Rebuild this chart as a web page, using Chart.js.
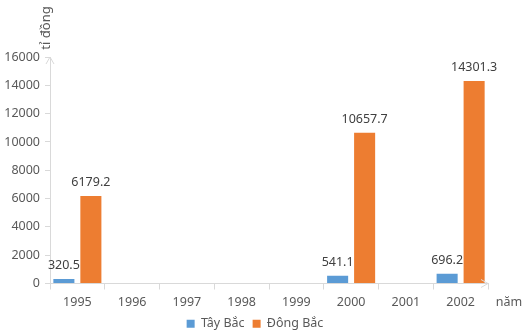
<!DOCTYPE html>
<html>
<head>
<meta charset="utf-8">
<script src="https://cdn.jsdelivr.net/npm/chart.js@4"></script>
<style>
  html, body { margin: 0; padding: 0; background: #fff; }
  #wrap { width: 530px; height: 336px; }
</style>
</head>
<body>
<div id="wrap"><canvas id="chart" width="530" height="336"></canvas></div>
<script>
// du lieu
const nam = ["1995", "1996", "1997", "1998", "1999", "2000", "2001", "2002"];
const tayBac = [320.5, null, null, null, null, 541.1, null, 696.2];
const dongBac = [6179.2, null, null, null, null, 10657.7, null, 14301.3];
const yTicks = [0, 2000, 4000, 6000, 8000, 10000, 12000, 14000, 16000];

const FONT = "'Noto Sans', sans-serif";
const TEXT = "#595959";
const AXIS = "#d9d9d9";

// nhan gia tri tren cot
const nhanGiaTri = {
  id: "nhanGiaTri",
  afterDatasetsDraw(chart) {
    const c = chart.ctx;
    c.save();
    c.font = "12.5px " + FONT;
    c.fillStyle = "#404040";
    c.textAlign = "center";
    c.textBaseline = "bottom";
    chart.data.datasets.forEach((ds, i) => {
      chart.getDatasetMeta(i).data.forEach((bar, j) => {
        if (ds.data[j] == null) return;
        c.fillText(ds.data[j].toFixed(1), bar.x, bar.y - 7);
      });
    });
    c.restore();
  }
};

// mui ten truc + ten truc
const trucTen = {
  id: "trucTen",
  afterLayout(chart) {
    // dich chu giai sang phai mot chut
    chart.legend.left += 11;
    chart.legend.right += 11;
  },
  afterDraw(chart) {
    const c = chart.ctx;
    const a = chart.chartArea;
    c.save();
    c.strokeStyle = AXIS;
    c.lineWidth = 1;
    c.beginPath();
    c.moveTo(a.left - 4, a.top + 7);
    c.lineTo(a.left, a.top);
    c.lineTo(a.left + 4, a.top + 7);
    c.moveTo(a.right - 7, a.bottom - 4);
    c.lineTo(a.right, a.bottom);
    c.lineTo(a.right - 7, a.bottom + 4);
    c.stroke();

    c.fillStyle = TEXT;
    c.font = "12.5px " + FONT;
    c.textAlign = "center";
    c.textBaseline = "middle";
    c.fillText("năm", 509, 302);

    c.translate(46, 28);
    c.rotate(-Math.PI / 2);
    c.font = "13px " + FONT;
    c.fillText("tỉ đồng", 0, 0);
    c.restore();
  }
};

new Chart(document.getElementById("chart"), {
  type: "bar",
  data: {
    labels: nam,
    datasets: [
      {
        label: "Tây Bắc",
        data: tayBac,
        backgroundColor: "#5b9bd5",
        categoryPercentage: 0.986,
        barPercentage: 0.78
      },
      {
        label: "Đông Bắc",
        data: dongBac,
        backgroundColor: "#ed7d31",
        categoryPercentage: 0.986,
        barPercentage: 0.78
      }
    ]
  },
  options: {
    responsive: false,
    animation: false,
    layout: { padding: { top: 57, right: 42, left: 0, bottom: -4 } },
    plugins: {
      legend: {
        position: "bottom",
        labels: {
          font: { family: FONT, size: 12.5 },
          color: TEXT,
          boxWidth: 8,
          boxHeight: 8,
          padding: 8
        }
      },
      tooltip: { enabled: false }
    },
    scales: {
      x: {
        offset: true,
        grid: {
          offset: true,
          drawOnChartArea: false,
          tickLength: 6,
          color: AXIS
        },
        border: { color: AXIS },
        ticks: {
          font: { family: FONT, size: 12.5 },
          color: TEXT,
          padding: 5,
          maxRotation: 0
        },
        afterFit(scale) { scale.height = 26; }
      },
      y: {
        min: 0,
        max: 16000,
        afterBuildTicks(scale) {
          scale.ticks = yTicks.map(v => ({ value: v }));
        },
        grid: {
          drawOnChartArea: false,
          tickLength: 5,
          color: AXIS
        },
        border: { color: AXIS },
        ticks: {
          font: { family: FONT, size: 12.5 },
          color: TEXT,
          padding: 5,
          callback: v => String(v)
        },
        afterFit(scale) { scale.width = 50; }
      }
    }
  },
  plugins: [nhanGiaTri, trucTen]
});
</script>
</body>
</html>
